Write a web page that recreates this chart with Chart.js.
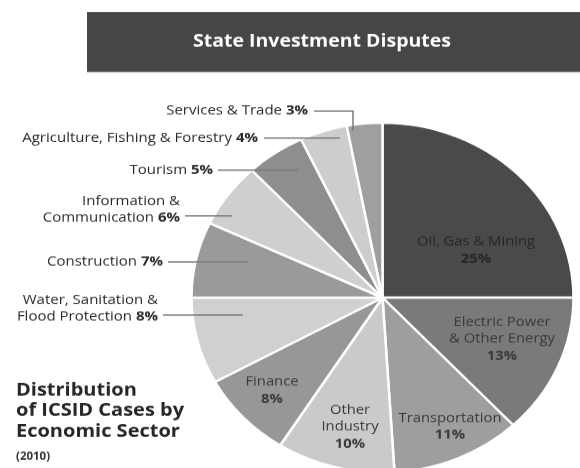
<!DOCTYPE html>
<html><head><meta charset="utf-8">
<script src="https://cdn.jsdelivr.net/npm/chart.js@4.4.0/dist/chart.umd.min.js"></script>
<style>
html,body{margin:0;padding:0;background:#fff;overflow:hidden;width:580px;height:468px}
#wrap{position:absolute;left:0;top:0;width:580px;height:511px;transform:scaleY(0.9158);transform-origin:0 0}
canvas{display:block}
</style></head><body>
<div id="wrap"><canvas id="c" width="580" height="511"></canvas></div>
<script>
// ---- data ----
const categories = ["Oil, Gas & Mining","Electric Power & Other Energy","Transportation","Other Industry","Finance","Water, Sanitation & Flood Protection","Construction","Information & Communication","Tourism","Agriculture, Fishing & Forestry","Services & Trade"];
const shares = [25,13,11,10,8,8,7,6,5,4,3];
const labelLines = [["Oil, Gas & Mining"],["Electric Power","& Other Energy"],["Transportation"],["Other","Industry"],["Finance"],["Water, Sanitation &","Flood Protection"],["Construction"],["Information &","Communication"],["Tourism"],["Agriculture, Fishing & Forestry"],["Services & Trade"]];
const chartTitle = "State Investment Disputes";
const sideTitle = ["Distribution","of ICSID Cases by","Economic Sector"];
const sideYear = "(2010)";
// ---- styles ----
const sliceColors = ["#4a4a4a","#7a7a7a","#9e9e9e","#cacaca","#979797","#d0d0d0","#9a9a9a","#cfcfcf","#8e8e8e","#cdcdcd","#9f9f9f"];
const S = 0.9158;
const FONT = "'Open Sans', Lato, sans-serif";

// layout in reference-pixel coordinates
const inside = {0:{x:476,y:242},1:{x:502,y:322},2:{x:450,y:418},3:{x:350,y:410},4:{x:272,y:382}};
const outside = {
  10:{r:308,y:111,lead:[[314,111],[353,111],[353,131]]},
  9:{r:258,y:138,lead:[[264,138],[340,138]]},
  8:{r:213,y:170,lead:[[218,170],[298,170]]},
  7:{r:180,y:218,lead:[[185,216],[232,216]]},
  6:{r:163,y:262,lead:[[168,262],[248,262]]},
  5:{r:158,y:317,lead:[[163,315],[243,315]]}
};

function Y(y){return y/S;}
function drawParts(ctx, parts, x, y, align, size, color){
  ctx.textBaseline='middle';
  ctx.fillStyle=color;
  let w=0;
  parts.forEach(p=>{ctx.font=(p.b?'bold ':'')+size+'px '+FONT; p.w=ctx.measureText(p.t).width; w+=p.w;});
  let sx = align==='right'? x-w : align==='center'? x-w/2 : x;
  ctx.textAlign='left';
  parts.forEach(p=>{ctx.font=(p.b?'bold ':'')+size+'px '+FONT; ctx.fillText(p.t,sx,Y(y)); sx+=p.w;});
}

const annot = {
  id:'annot',
  afterDraw(chart){
    const ctx=chart.ctx;
    ctx.save();
    // title bar
    ctx.fillStyle='#464646';
    ctx.fillRect(87,Y(12),493,Y(72)-Y(12));
    drawParts(ctx,[{t:chartTitle,b:true}],322,42,'center',19.5,'#ffffff');
    // side title
    sideTitle.forEach((t,i)=>drawParts(ctx,[{t:t,b:true}],16,[390,411,432][i],'left',20,'#262626'));
    drawParts(ctx,[{t:sideYear,b:true}],16,457,'left',11.5,'#333');
    // leader lines
    ctx.strokeStyle='#7a7a7a';ctx.lineWidth=1.5;
    Object.keys(outside).forEach(k=>{
      const o=outside[k];
      ctx.beginPath();
      o.lead.forEach((p,i)=>{ if(i===0)ctx.moveTo(p[0],Y(p[1])); else ctx.lineTo(p[0],Y(p[1])); });
      ctx.stroke();
    });
    // outside labels
    Object.keys(outside).forEach(k=>{
      const o=outside[k], lines=labelLines[k], n=lines.length;
      lines.forEach((t,i)=>{
        const y=o.y-(n-1-i)*17;
        const parts=[{t:t,b:false}];
        if(i===n-1) parts.push({t:' '+shares[k]+'%',b:true});
        drawParts(ctx,parts,o.r,y,'right',15,'#2a2a2a');
      });
    });
    // inside labels
    Object.keys(inside).forEach(k=>{
      const o=inside[k], lines=labelLines[k];
      const col = k==='0' ? '#262626' : '#3a3a3a';
      lines.forEach((t,i)=>drawParts(ctx,[{t:t,b:false}],o.x,o.y+i*17,'center',14.8,col));
      drawParts(ctx,[{t:shares[k]+'%',b:true}],o.x,o.y+lines.length*17,'center',14.8,col);
    });
    ctx.restore();
  }
};

new Chart(document.getElementById('c'),{
  type:'pie',
  data:{labels:categories,datasets:[{data:shares,backgroundColor:sliceColors,borderColor:'#ffffff',borderWidth:2.5}]},
  options:{
    responsive:false,animation:false,devicePixelRatio:1,
    radius:191,
    layout:{padding:{left:190,right:5,top:139,bottom:0}},
    plugins:{legend:{display:false},tooltip:{enabled:false},title:{display:false}}
  },
  plugins:[annot]
});
</script>
</body></html>
